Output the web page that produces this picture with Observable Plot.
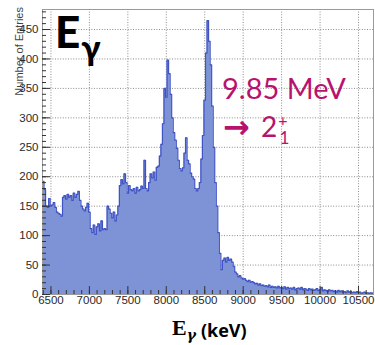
<!DOCTYPE html>
<html><head><meta charset="utf-8">
<script src="https://cdn.jsdelivr.net/npm/d3@7"></script>
<script src="https://cdn.jsdelivr.net/npm/@observablehq/plot@0.6"></script>
<style>
body{margin:0;background:#fff}
#chart svg{display:block;overflow:visible}
</style>
</head><body><div id="chart"></div>
<script>
// Histogram: bin start (keV), bin width (keV), counts per bin
const binStartKeV = 6390;
const binWidthKeV = 20;
const counts = [
  192,178,150,148,163,150,152,156,148,140,
  138,136,133,165,168,162,170,165,168,160,
  172,165,170,175,160,150,145,142,148,155,
  140,112,105,118,102,115,120,108,125,110,
  112,110,150,145,138,130,140,125,135,150,
  185,195,188,205,190,172,185,178,176,180,
  172,182,176,178,184,180,228,180,176,190,
  205,198,208,194,216,218,235,255,290,350,
  335,398,375,340,300,275,262,248,228,214,
  210,215,240,266,228,222,206,200,196,180,
  176,180,190,230,270,330,410,465,430,390,
  320,250,190,150,105,70,42,58,62,55,
  63,58,60,55,48,38,35,30,32,28,
  26,27,24,22,24,21,22,20,18,19,
  16,18,15,16,14,15,13,16,12,14,
  12,13,11,14,11,12,10,13,9,12,
  10,11,9,12,8,10,11,9,12,8,
  10,9,7,10,8,9,7,8,10,7,
  8,12,6,8,7,5,8,6,7,5,
  6,4,7,5,6,4,5,3,6,4,
  5,3,4,3,5,3,4,2,3,4,
  2,3,2,3,2,3
];
const xTicks = [6500,7000,7500,8000,8500,9000,9500,10000,10500];
const yTicks = [0,50,100,150,200,250,300,350,400,450];
const xDomain = [6390, 10695];
const yDomain = [0, 484];
const yTitle = "Number of Entries";

const bins = counts.map((c, i) => ({x: binStartKeV + i * binWidthKeV, y: c}));
const outline = bins.concat([{x: binStartKeV + counts.length * binWidthKeV, y: counts[counts.length - 1]}]);
const minorX = d3.range(6400, 10700, 100);
const minorY = d3.range(0, 481, 10);

const tickColor = "#333";
const plot = Plot.plot({
  width: 375, height: 345,
  marginLeft: 42, marginRight: 2, marginTop: 9, marginBottom: 51,
  x: {domain: xDomain, label: null},
  y: {domain: yDomain, label: null},
  style: {fontFamily: "'Liberation Sans', Arial, sans-serif", fontSize: "11.5px", color: "#2a2a2a", background: "#fff"},
  marks: [
    Plot.gridX(xTicks, {stroke: "#8c8c8c", strokeOpacity: 1, strokeDasharray: "1,1.6"}),
    Plot.gridY(yTicks.slice(1), {stroke: "#8c8c8c", strokeOpacity: 1, strokeDasharray: "1,1.6"}),
    Plot.areaY(outline, {x: "x", y: "y", curve: "step-after", fill: "#7d93d5", clip: true}),
    Plot.line(outline, {x: "x", y: "y", curve: "step-after", stroke: "#4053c4", strokeWidth: 1.2, clip: true}),
    Plot.frame({stroke: "#9a9a9a"}),
    Plot.axisX(minorX, {tickSize: -4, text: null, stroke: tickColor, label: null}),
    Plot.axisX(xTicks, {tickSize: -8, tickPadding: 9, line: true, stroke: tickColor, label: null, tickFormat: d3.format("d")}),
    Plot.axisY(minorY, {tickSize: -4, text: null, stroke: tickColor, label: null}),
    Plot.axisY(yTicks, {tickSize: -8, tickPadding: 12, line: true, stroke: tickColor, label: null, tickFormat: d3.format("d")})
  ]
});
document.getElementById("chart").appendChild(plot);

const svg = d3.select(plot);
const magenta = "#b8126f";
// Y axis title (ROOT style, right-aligned at top)
svg.append("text")
  .attr("transform", "translate(23,7) rotate(-90)")
  .attr("text-anchor", "end")
  .attr("font-family", "'Liberation Sans', Arial, sans-serif")
  .attr("font-size", 11).attr("fill", "#444")
  .text(yTitle);

// Big E_gamma label
const big = svg.append("text").attr("x", 55).attr("y", 48).attr("text-anchor", "start")
  .attr("font-family", "Lato, 'Open Sans', sans-serif").attr("font-weight", 900)
  .attr("font-size", 44).attr("fill", "#000");
big.append("tspan").text("E");
big.append("tspan").attr("font-size", 34).attr("dy", 12).attr("dx", 1).text("γ");

// Annotation
svg.append("text").attr("x", 222).attr("y", 99).attr("text-anchor", "start")
  .attr("font-family", "Lato, 'Open Sans', sans-serif")
  .attr("font-size", 29).attr("fill", magenta).text("9.85 MeV");
svg.append("text").attr("x", 223).attr("y", 138).attr("text-anchor", "start")
  .attr("font-family", "'DejaVu Sans', sans-serif").attr("font-weight", 700)
  .attr("font-size", 32).attr("fill", magenta).text("→");
const lev = svg.append("text").attr("x", 261).attr("y", 137).attr("text-anchor", "start")
  .attr("font-family", "Lato, 'Open Sans', sans-serif")
  .attr("font-size", 28).attr("fill", magenta);
lev.append("tspan").text("2");
lev.append("tspan").attr("font-size", 16).attr("dy", -11).attr("dx", 1).text("+");
lev.append("tspan").attr("font-size", 17).attr("dy", 18).attr("dx", -8).text("1");

// X axis title
const xt = svg.append("text").attr("x", 172).attr("y", 335).attr("text-anchor", "start").attr("fill", "#000");
xt.append("tspan").attr("font-family", "'Liberation Serif', serif").attr("font-weight", 700)
  .attr("font-size", 22).text("E");
xt.append("tspan").attr("font-family", "'DejaVu Serif', serif").attr("font-weight", 700)
  .attr("font-style", "italic").attr("font-size", 14).attr("dy", 5).text("γ");
xt.append("tspan").attr("font-family", "'Open Sans', sans-serif").attr("font-weight", 700)
  .attr("font-size", 18).attr("dy", -3).attr("dx", 5).text("(keV)");
</script>
</body></html>
